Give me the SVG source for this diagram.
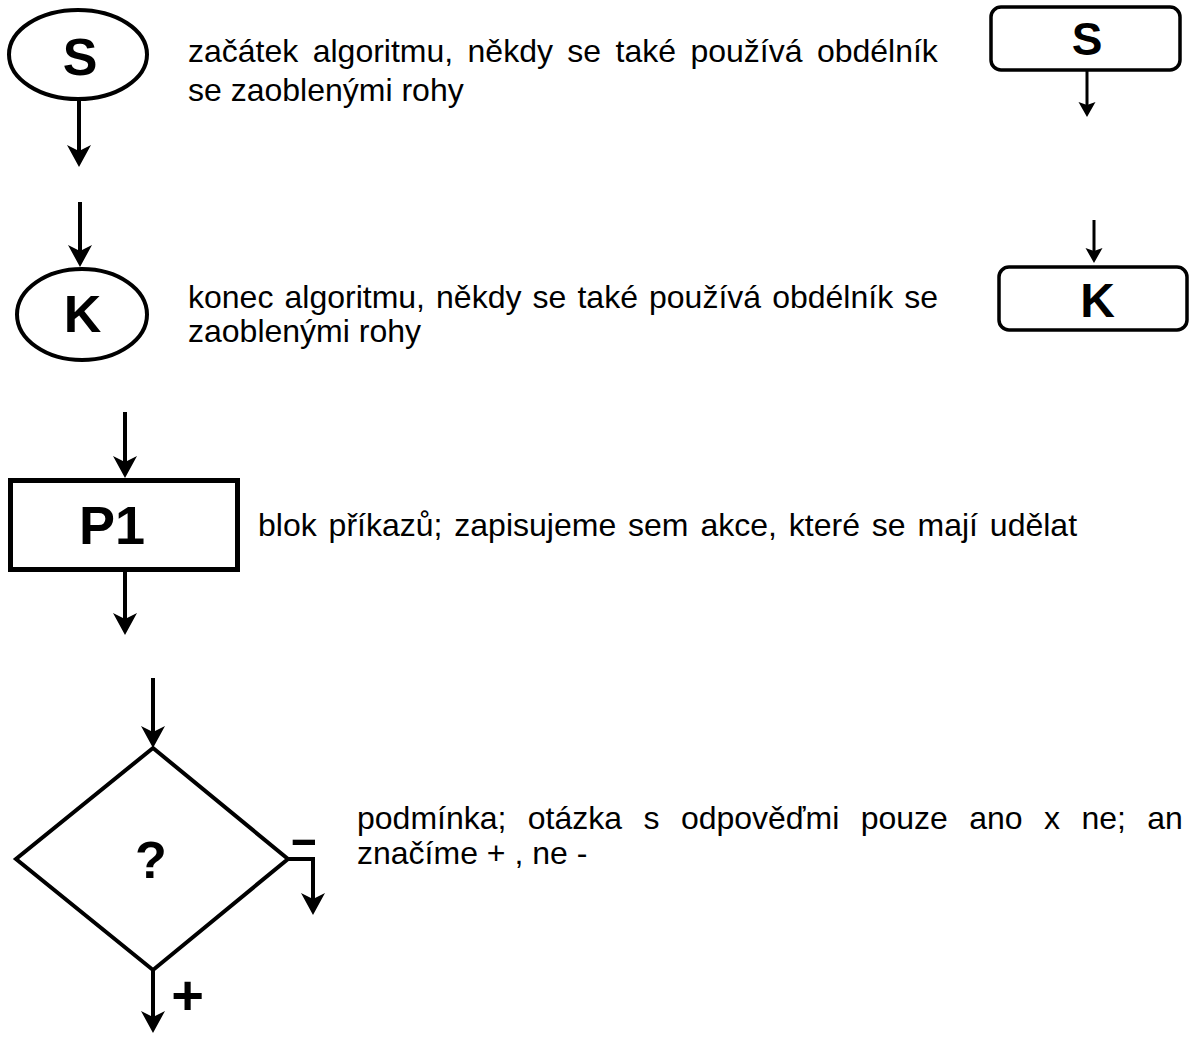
<svg xmlns="http://www.w3.org/2000/svg" width="1190" height="1037" viewBox="0 0 1190 1037">
<style>
  .shape { fill: #fff; stroke: #000; stroke-width: 4; }
  .thin { stroke-width: 3.5; }
  .lbl { font-family: "Liberation Sans", Arial, sans-serif; font-weight: bold; fill: #000; text-anchor: middle; }
  .desc { font-family: "Liberation Sans", Arial, sans-serif; font-size: 32px; fill: #000; }
  .conn { fill: none; stroke: #000; stroke-width: 4; }
  .conn-s { fill: none; stroke: #000; stroke-width: 3; }
</style>
<defs>
  <marker id="arr" markerUnits="userSpaceOnUse" viewBox="0 -12 22 24" markerWidth="22" markerHeight="24" refX="11" refY="0" orient="auto">
    <path d="M0,-12 L22,0 L0,12 L6,0 Z" fill="#000"/>
  </marker>
  <marker id="arrs" markerUnits="userSpaceOnUse" viewBox="0 -9 15 18" markerWidth="15" markerHeight="18" refX="8" refY="0" orient="auto">
    <path d="M0,-8.5 L15,0 L0,8.5 L3,0 Z" fill="#000"/>
  </marker>
</defs>

<g id="connectors">
  <line class="conn" x1="79" y1="101" x2="79" y2="156" marker-end="url(#arr)"/>
  <line class="conn" x1="80" y1="202" x2="80" y2="256" marker-end="url(#arr)"/>
  <line class="conn-s" x1="1087" y1="70" x2="1087" y2="110" marker-end="url(#arrs)"/>
  <line class="conn-s" x1="1094" y1="220" x2="1094" y2="256" marker-end="url(#arrs)"/>
  <line class="conn" x1="125" y1="412" x2="125" y2="467" marker-end="url(#arr)"/>
  <line class="conn" x1="125" y1="572" x2="125" y2="624" marker-end="url(#arr)"/>
  <line class="conn" x1="153" y1="678" x2="153" y2="737" marker-end="url(#arr)"/>
  <line class="conn" x1="153" y1="970" x2="153" y2="1022" marker-end="url(#arr)"/>
  <path class="conn" d="M288,859 H313 V904" marker-end="url(#arr)"/>
</g>

<g id="start-oval">
  <ellipse class="shape" cx="78" cy="54.5" rx="69" ry="44.5"/>
  <text class="lbl" x="80" y="75" font-size="52">S</text>
</g>
<g id="start-desc">
  <text class="desc" x="188" y="62" word-spacing="5.5">začátek algoritmu, někdy se také používá obdélník</text>
  <text class="desc" x="188" y="101">se zaoblenými rohy</text>
</g>
<g id="start-rect">
  <rect class="shape thin" x="991" y="7" width="189" height="63" rx="10"/>
  <text class="lbl" x="1087" y="55" font-size="46">S</text>
</g>

<g id="end-oval">
  <ellipse class="shape" cx="82" cy="314.5" rx="65" ry="45.5"/>
  <text class="lbl" x="82.5" y="332" font-size="52">K</text>
</g>
<g id="end-desc">
  <text class="desc" x="188" y="308" word-spacing="2.2">konec algoritmu, někdy se také používá obdélník se</text>
  <text class="desc" x="188" y="342">zaoblenými rohy</text>
</g>
<g id="end-rect">
  <rect class="shape thin" x="999" y="267" width="188" height="63" rx="10"/>
  <text class="lbl" x="1097.5" y="317" font-size="48">K</text>
</g>

<g id="process">
  <rect class="shape" x="10.5" y="480.5" width="227" height="89" style="stroke-width:5"/>
  <text class="lbl" x="112" y="544" font-size="54">P1</text>
</g>
<g id="process-desc">
  <text class="desc" x="258" y="536" word-spacing="3">blok příkazů; zapisujeme sem akce, které se mají udělat</text>
</g>

<g id="decision">
  <polygon class="shape" points="153,748 288,859 153,970 16,859"/>
  <text class="lbl" x="151" y="878" font-size="52">?</text>
  <text class="lbl" x="0" y="0" font-size="44" transform="translate(304,854) scale(2,1)">-</text>
  <text class="lbl" x="187.5" y="1014" font-size="56">+</text>
</g>
<g id="decision-desc">
  <text class="desc" x="357" y="829" word-spacing="12.5">podmínka; otázka s odpověďmi pouze ano x ne; an</text>
  <text class="desc" x="357" y="864">značíme + , ne -</text>
</g>
</svg>
